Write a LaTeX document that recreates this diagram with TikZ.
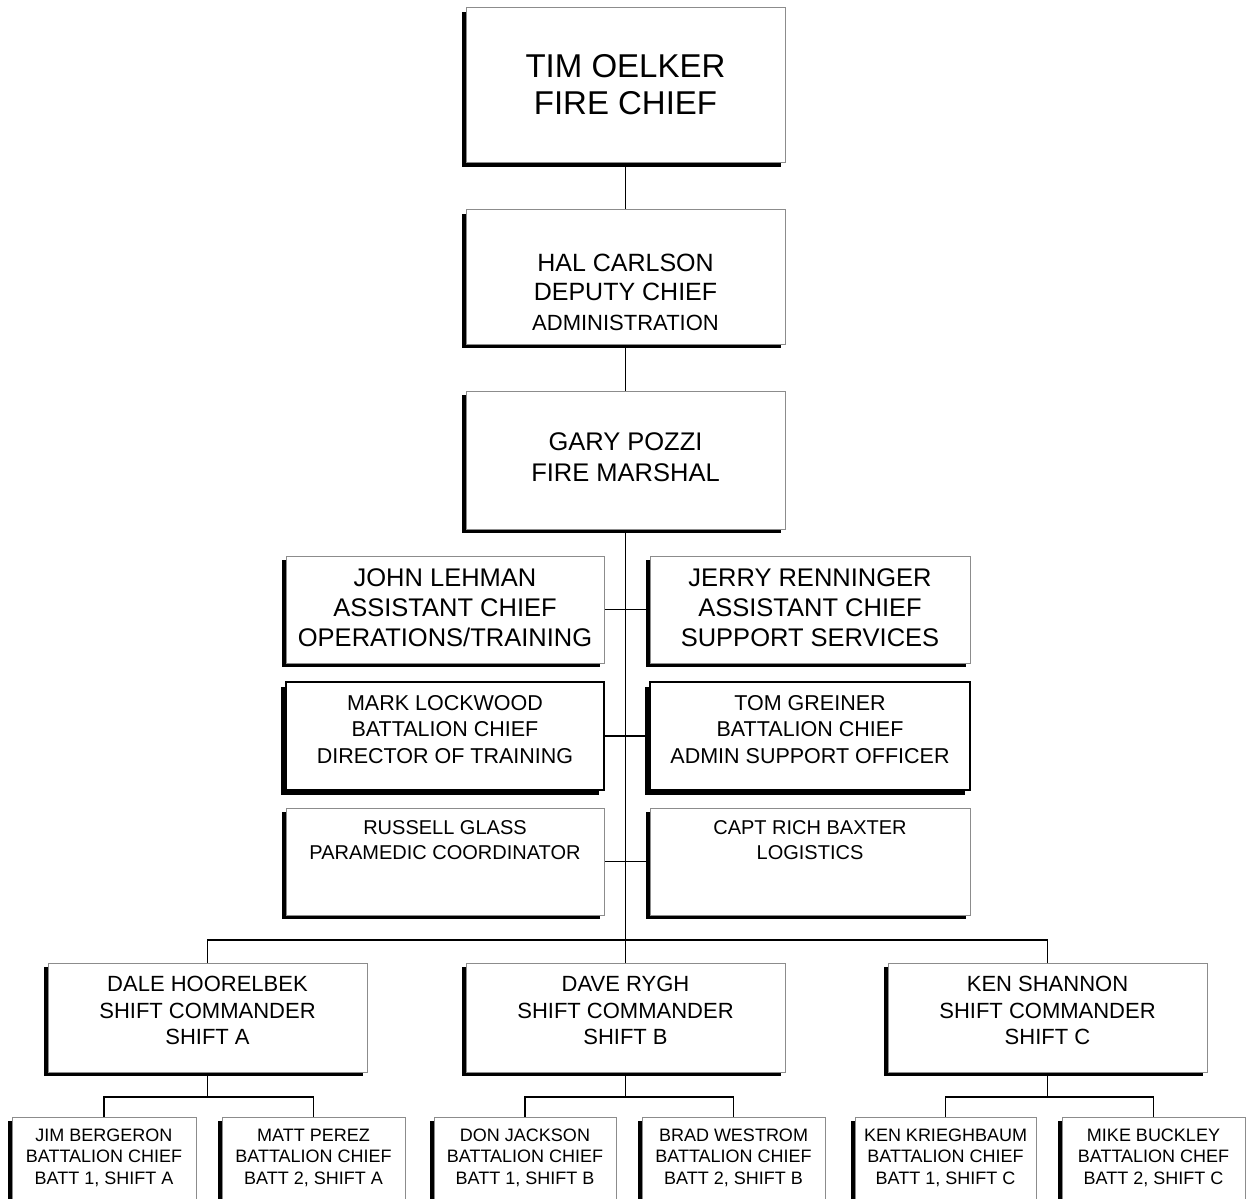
\documentclass[tikz,border=0pt]{standalone}
\usepackage{fontspec}
\setmainfont{Liberation Sans}
\usetikzlibrary{shadows}
\pgfdeclarelayer{background}
\pgfsetlayers{background,main}
\definecolor{boxgray}{HTML}{8C8C8C}
\tikzset{
  orgbox/.style={draw=boxgray, line width=1pt, fill=white, inner sep=0pt,
    drop shadow={shadow xshift=-4pt, shadow yshift=-4pt, fill=black, opacity=1}},
  darkbox/.style={draw=black, line width=1.2pt, fill=white, inner sep=0pt,
    drop shadow={shadow xshift=-5pt, shadow yshift=-5pt, fill=black, opacity=1}},
  lbl/.style={align=center, inner sep=0pt, text=black},
  wire/.style={draw=black, line width=1.1pt},
}
% #1 style, #2 name, #3 x1, #4 y1, #5 x2, #6 y2
\newcommand\orgrect[6]{%
  \node[#1, minimum width={(#5)-(#3)}, minimum height={(#6)-(#4)}] (#2) at ({((#3)+(#5))/2},{((#4)+(#6))/2}) {};}
\begin{document}
\begin{tikzpicture}[x=1pt, y=-1pt]
\useasboundingbox (0,0) rectangle (1246,1198);
\clip (0,0) rectangle (1246,1198);

% top chain
\orgrect{orgbox}{tim}{466}{8}{785}{163}
\node[lbl, font=\fontsize{33}{37}\selectfont] (timt) at ([yshift=1pt]tim.center) {TIM OELKER\\FIRE CHIEF};

\orgrect{orgbox}{hal}{466}{210}{785}{344}
\node[lbl, font=\fontsize{25}{29.5}\selectfont] (halt) at ([yshift=-15pt]hal.center) {HAL CARLSON\\DEPUTY CHIEF\\{\fontsize{22}{28}\selectfont ADMINISTRATION}};

\orgrect{orgbox}{gary}{466}{391}{785}{529}
\node[lbl, font=\fontsize{25.5}{31}\selectfont] (garyt) at ([yshift=2.5pt]gary.center) {GARY POZZI\\FIRE MARSHAL};

% staff boxes
\orgrect{orgbox}{john}{286}{556}{604}{663}
\node[lbl, font=\fontsize{25.5}{30}\selectfont] (johnt) at ([yshift=1.5pt]john.center) {JOHN LEHMAN\\ASSISTANT CHIEF\\OPERATIONS/TRAINING};
\orgrect{orgbox}{jerry}{650}{556}{970}{663}
\node[lbl, font=\fontsize{25.5}{30}\selectfont] (jerryt) at ([yshift=1.5pt]jerry.center) {JERRY RENNINGER\\ASSISTANT CHIEF\\SUPPORT SERVICES};

\orgrect{darkbox}{mark}{286}{682}{604}{790}
\node[lbl, font=\fontsize{21.5}{26.5}\selectfont] (markt) at ([yshift=6.5pt]mark.center) {MARK LOCKWOOD\\BATTALION CHIEF\\DIRECTOR OF TRAINING};
\orgrect{darkbox}{tom}{650}{682}{970}{790}
\node[lbl, font=\fontsize{21.5}{26.5}\selectfont] (tomt) at ([yshift=6.5pt]tom.center) {TOM GREINER\\BATTALION CHIEF\\ADMIN SUPPORT OFFICER};

\orgrect{orgbox}{russ}{286}{808}{604}{915}
\node[lbl, font=\fontsize{20}{25}\selectfont] (russt) at ([yshift=21pt]russ.center) {RUSSELL GLASS\\PARAMEDIC COORDINATOR};
\orgrect{orgbox}{rich}{650}{808}{970}{915}
\node[lbl, font=\fontsize{20}{25}\selectfont] (richt) at ([yshift=21pt]rich.center) {CAPT RICH BAXTER\\LOGISTICS};

% shift commanders
\orgrect{orgbox}{dale}{48}{963}{367}{1072}
\node[lbl, font=\fontsize{22}{26.5}\selectfont] (dalet) at ([yshift=7pt]dale.center) {DALE HOORELBEK\\SHIFT COMMANDER\\SHIFT A};
\orgrect{orgbox}{dave}{466}{963}{785}{1072}
\node[lbl, font=\fontsize{22}{26.5}\selectfont] (davet) at ([yshift=7pt]dave.center) {DAVE RYGH\\SHIFT COMMANDER\\SHIFT B};
\orgrect{orgbox}{kens}{888}{963}{1207}{1072}
\node[lbl, font=\fontsize{22}{26.5}\selectfont] (kenst) at ([yshift=7pt]kens.center) {KEN SHANNON\\SHIFT COMMANDER\\SHIFT C};

% battalion chiefs
\orgrect{orgbox}{jim}{12}{1117}{196}{1217}
\node[lbl, font=\fontsize{18}{21.5}\selectfont] (jimt) at ([yshift=9.5pt]jim.center) {JIM BERGERON\\BATTALION CHIEF\\BATT 1, SHIFT A};
\orgrect{orgbox}{matt}{222}{1117}{405}{1217}
\node[lbl, font=\fontsize{18}{21.5}\selectfont] (mattt) at ([yshift=9.5pt]matt.center) {MATT PEREZ\\BATTALION CHIEF\\BATT 2, SHIFT A};
\orgrect{orgbox}{don}{434}{1117}{616}{1217}
\node[lbl, font=\fontsize{18}{21.5}\selectfont] (dont) at ([yshift=9.5pt]don.center) {DON JACKSON\\BATTALION CHIEF\\BATT 1, SHIFT B};
\orgrect{orgbox}{brad}{642}{1117}{825}{1217}
\node[lbl, font=\fontsize{18}{21.5}\selectfont] (bradt) at ([yshift=9.5pt]brad.center) {BRAD WESTROM\\BATTALION CHIEF\\BATT 2, SHIFT B};
\orgrect{orgbox}{kenk}{855}{1117}{1036}{1217}
\node[lbl, font=\fontsize{18}{21.5}\selectfont] (kenkt) at ([yshift=9.5pt]kenk.center) {KEN KRIEGHBAUM\\BATTALION CHIEF\\BATT 1, SHIFT C};
\orgrect{orgbox}{mike}{1062}{1117}{1245}{1217}
\node[lbl, font=\fontsize{18}{21.5}\selectfont] (miket) at ([yshift=9.5pt]mike.center) {MIKE BUCKLEY\\BATTALION CHEF\\BATT 2, SHIFT C};

% junction coordinates
\coordinate (bus) at (625.5,940);
\coordinate (sa) at (207.5,1097);
\coordinate (sb) at (625.5,1097);
\coordinate (sc) at (1047.5,1097);

\begin{pgfonlayer}{background}
\draw[wire] (tim.south) -- (hal.north);
\draw[wire] (hal.south) -- (gary.north);
\draw[wire] (gary.south) -- (bus);
\draw[wire] (john.east) -- (jerry.west);
\draw[wire] (mark.east) -- (tom.west);
\draw[wire] (russ.east) -- (rich.west);
\draw[wire] (dale.north) |- (bus) -| (kens.north);
\draw[wire] (bus) -- (dave.north);
\draw[wire] (dale.south) -- (sa);
\draw[wire] (jim.north) |- (sa) -| (matt.north);
\draw[wire] (dave.south) -- (sb);
\draw[wire] (don.north) |- (sb) -| (brad.north);
\draw[wire] (kens.south) -- (sc);
\draw[wire] (kenk.north) |- (sc) -| (mike.north);
\end{pgfonlayer}
\end{tikzpicture}
\end{document}
